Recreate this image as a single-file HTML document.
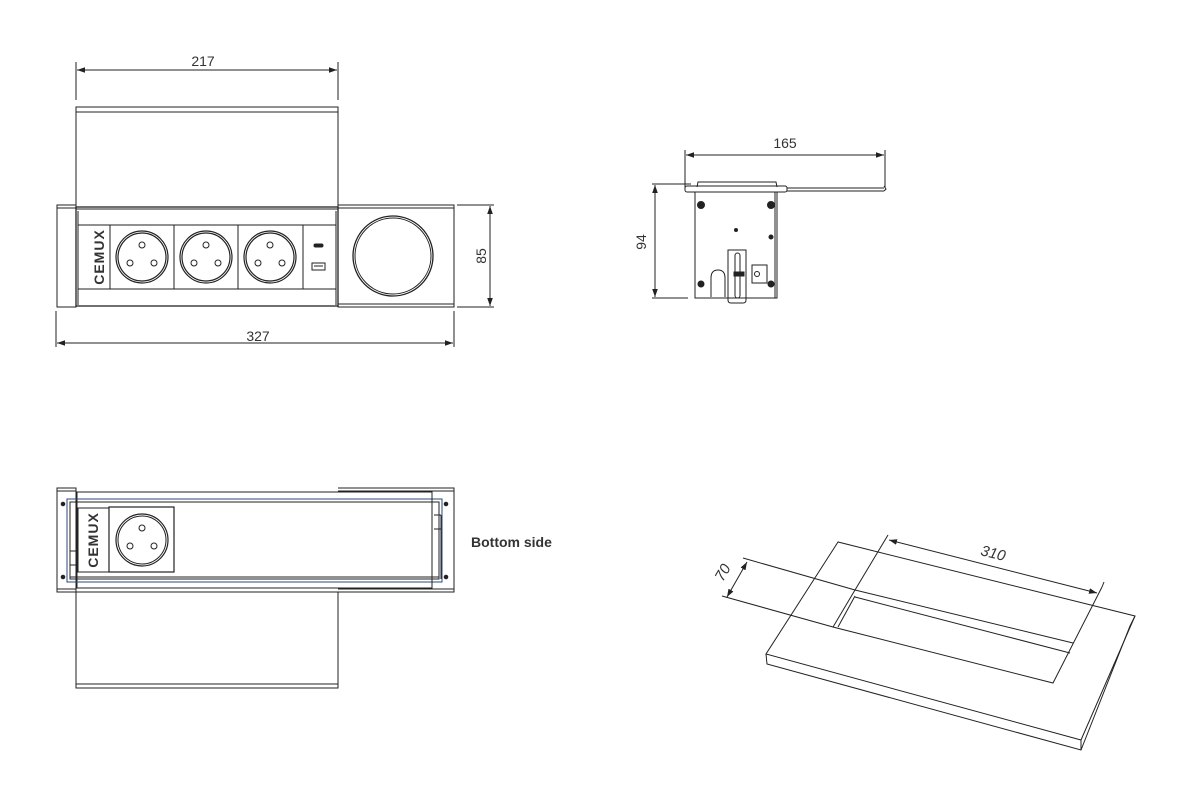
<!DOCTYPE html>
<html><head><meta charset="utf-8"><style>
html,body{margin:0;padding:0;background:#fff;}
svg{display:block;}
text{font-family:"Liberation Sans",sans-serif;fill:#333;}
</style></head><body>
<svg width="1203" height="805" viewBox="0 0 1203 805" xmlns="http://www.w3.org/2000/svg">
<defs>
<marker id="a" viewBox="0 0 10 10" refX="10" refY="5" markerWidth="8" markerHeight="8" orient="auto-start-reverse" markerUnits="userSpaceOnUse"><path d="M0,1.5 L10,5 L0,8.5 z" fill="#222"/></marker>
</defs>
<g fill="none" stroke="#222" stroke-width="1">
<!-- TOP VIEW -->
<line x1="76" y1="62" x2="76" y2="100"/><line x1="338" y1="62" x2="338" y2="100"/>
<line x1="77" y1="70" x2="337" y2="70" marker-start="url(#a)" marker-end="url(#a)"/>
<rect x="76" y="107" width="262" height="100"/>
<line x1="76" y1="112" x2="338" y2="112"/>
<rect x="57" y="205" width="19" height="102"/>
<line x1="57" y1="208" x2="76" y2="208"/>
<rect x="76" y="207" width="262" height="99" stroke-width="1.3"/>
<line x1="76" y1="209" x2="338" y2="209"/>
<line x1="78" y1="211" x2="78" y2="305"/><line x1="336" y1="211" x2="336" y2="305"/>
<line x1="78" y1="225" x2="336" y2="225"/><line x1="78" y1="289" x2="336" y2="289"/>
<line x1="110" y1="225" x2="110" y2="289"/><line x1="174" y1="225" x2="174" y2="289"/>
<line x1="238" y1="225" x2="238" y2="289"/><line x1="303" y1="225" x2="303" y2="289"/>
<g stroke-width="1.2">
<circle cx="142" cy="257" r="26"/><circle cx="142" cy="257" r="24"/>
<circle cx="206" cy="257" r="26"/><circle cx="206" cy="257" r="24"/>
<circle cx="270" cy="257" r="26"/><circle cx="270" cy="257" r="24"/>
</g>
<g stroke-width="1"><circle cx="142" cy="245" r="3"/><circle cx="130" cy="263" r="3"/><circle cx="154" cy="263" r="3"/>
<circle cx="206" cy="245" r="3"/><circle cx="194" cy="263" r="3"/><circle cx="218" cy="263" r="3"/>
<circle cx="270" cy="245" r="3"/><circle cx="258" cy="263" r="3"/><circle cx="282" cy="263" r="3"/></g>
<rect x="314" y="244" width="9" height="3" rx="1.5" fill="#222"/>
<rect x="312" y="263" width="13" height="7"/><line x1="314" y1="266" x2="323" y2="266"/>
<rect x="338" y="205" width="116" height="102"/>
<line x1="338" y1="208" x2="454" y2="208"/><line x1="338" y1="304" x2="454" y2="304"/>
<circle cx="393" cy="256" r="40" stroke-width="1.3"/><circle cx="393" cy="256" r="38"/>
<line x1="457" y1="205" x2="494" y2="205"/><line x1="457" y1="307" x2="494" y2="307"/>
<line x1="490" y1="206" x2="490" y2="306" marker-start="url(#a)" marker-end="url(#a)"/>
<line x1="56" y1="311" x2="56" y2="347"/><line x1="454" y1="311" x2="454" y2="347"/>
<line x1="57" y1="343" x2="453" y2="343" marker-start="url(#a)" marker-end="url(#a)"/>

<!-- SIDE VIEW -->
<line x1="685" y1="150" x2="685" y2="188"/><line x1="885" y1="150" x2="885" y2="188"/>
<line x1="686" y1="155" x2="884" y2="155" marker-start="url(#a)" marker-end="url(#a)"/>
<path d="M697 187 L698 182 L776 182 L777 187"/>
<rect x="685" y="186" width="102" height="6" rx="2"/>
<line x1="787" y1="188" x2="884" y2="188"/><line x1="787" y1="191" x2="884" y2="191"/>
<path d="M884 186 L886 189 L884 191"/>
<rect x="695" y="192" width="82" height="106"/>
<line x1="775" y1="192" x2="775" y2="298"/>
<circle cx="701" cy="205" r="3.5" fill="#222"/><circle cx="771" cy="205" r="3.5" fill="#222"/>
<circle cx="736" cy="230" r="1.5" fill="#222"/><circle cx="771" cy="237" r="2" fill="#222"/>
<circle cx="701" cy="284" r="3" fill="#222"/><circle cx="771" cy="284" r="3" fill="#222"/>
<path d="M711 297 L711 278 Q711 270 718 270 Q725 270 725 278 L725 297"/>
<path d="M728 250 L746 250 L746 300 Q746 303 743 303 L731 303 Q728 303 728 300 Z"/>
<rect x="735" y="253" width="5" height="45" rx="2.5"/>
<rect x="734" y="272" width="10" height="4" fill="#222"/>
<rect x="752" y="265" width="15" height="18"/><circle cx="757" cy="274" r="2.5"/>
<line x1="652" y1="184" x2="691" y2="184"/><line x1="652" y1="298" x2="688" y2="298"/>
<line x1="655" y1="185" x2="655" y2="297" marker-start="url(#a)" marker-end="url(#a)"/>

<!-- BOTTOM VIEW -->
<rect x="57" y="488" width="19" height="104"/>
<line x1="57" y1="491" x2="76" y2="491"/><line x1="57" y1="589" x2="76" y2="589"/>
<path d="M338 488 L454 488 L454 592 L338 592"/>
<line x1="338" y1="491" x2="454" y2="491"/><line x1="338" y1="589" x2="454" y2="589"/>
<rect x="77" y="492" width="355" height="96"/>
<rect x="67" y="499" width="375" height="83" stroke="#2a4a7a"/>
<rect x="70" y="502" width="369" height="77"/>
<line x1="70" y1="577" x2="439" y2="577"/>
<line x1="432" y1="492" x2="432" y2="588"/><line x1="441" y1="515" x2="441" y2="579"/>
<line x1="434" y1="515" x2="441" y2="515"/><line x1="434" y1="529" x2="441" y2="529"/>
<line x1="70" y1="551" x2="78" y2="551"/><line x1="70" y1="565" x2="78" y2="565"/>
<circle cx="63" cy="504" r="1.8" fill="#222"/><circle cx="63" cy="577" r="1.8" fill="#222"/>
<circle cx="446" cy="504" r="1.8" fill="#222"/><circle cx="446" cy="577" r="1.8" fill="#222"/>
<rect x="78" y="508" width="31" height="64"/>
<rect x="109" y="507" width="65" height="65" stroke-width="1.2"/>
<circle cx="142" cy="540" r="26" stroke-width="1.2"/><circle cx="142" cy="540" r="24"/>
<circle cx="142" cy="528" r="3"/><circle cx="130" cy="546" r="3"/><circle cx="154" cy="546" r="3"/>
<rect x="76" y="592" width="262" height="96"/>
<line x1="76" y1="684" x2="338" y2="684"/>

<!-- ISO VIEW -->
<polygon points="838,542 766,654 1081,740 1135,616"/>
<path d="M766,654 L767,664 L1081,750 L1081,740"/>
<path d="M1081,750 L1130,626 L1135,616"/>
<path d="M855,590 L1073,643"/><path d="M855,597 L1070,653"/>
<path d="M855,590 L833,627 L1053,683 L1102,587"/>
<path d="M838,627 L855,596"/>
<line x1="888" y1="535" x2="855" y2="590"/>
<line x1="1102" y1="587" x2="1104" y2="582"/>
<line x1="743" y1="558" x2="855" y2="590"/>
<line x1="722" y1="596" x2="833" y2="627"/>
<line x1="889" y1="540" x2="1097" y2="593" marker-start="url(#a)" marker-end="url(#a)"/>
<line x1="747" y1="562" x2="727" y2="597" marker-start="url(#a)" marker-end="url(#a)"/>
</g>
<g font-size="14">
<text x="203" y="66" text-anchor="middle">217</text>
<text x="258" y="341" text-anchor="middle">327</text>
<text x="486" y="256" text-anchor="middle" transform="rotate(-90 486 256)">85</text>
<text x="785" y="148" text-anchor="middle">165</text>
<text x="646" y="242" text-anchor="middle" transform="rotate(-90 646 242)">94</text>
<text x="992" y="558" text-anchor="middle" font-style="italic" font-size="15" transform="rotate(14 992 558)">310</text>
<text x="727" y="575" text-anchor="middle" font-style="italic" font-size="15" transform="rotate(-60 727 575)">70</text>
<text x="471" y="547" font-weight="bold" fill="#222">Bottom side</text>
<text x="99" y="257" text-anchor="middle" font-weight="bold" font-size="14" letter-spacing="1" fill="#222" transform="rotate(-90 99 257)" dy="5">CEMUX</text>
<text x="93" y="540" text-anchor="middle" font-weight="bold" font-size="14" letter-spacing="1" fill="#222" transform="rotate(-90 93 540)" dy="5">CEMUX</text>
</g>
</svg>
</body></html>
